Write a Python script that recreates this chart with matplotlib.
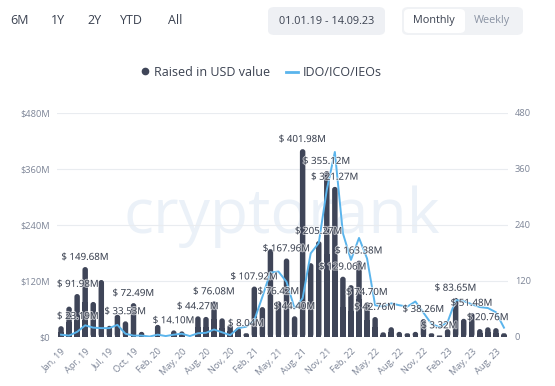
import numpy as np
import matplotlib
matplotlib.use("Agg")
import matplotlib.pyplot as plt
from matplotlib.patches import FancyBboxPatch, Rectangle
from matplotlib.lines import Line2D
import matplotlib.patheffects as pe

plt.rcParams["font.family"] = ["Open Sans", "DejaVu Sans"]

# monthly raised (USD, millions) - Jan 19 .. Sep 23
raised = [23.19, 65, 91.98, 149.68, 75, 122, 24, 48, 33.53, 72.49,
          11, 0, 26, 0, 14.10, 12, 0, 44.27, 43, 76.08,
          40, 27, 20, 8.04, 107.92, 64, 188, 76.42, 167.96, 44.40,
          401.98, 158, 205.27, 355.12, 321.27, 129.06, 111, 163.38, 74.70, 42.76,
          10, 21, 11, 8, 11, 38.26, 8, 3.32, 17, 83.65,
          39, 51.48, 17, 20.76, 19, 8]
# number of IDO/ICO/IEOs per month
idos = [5, 3, 11, 25, 20, 19, 19, 26, 7, 3,
        3, 1, 5, 2, 5, 7, 2, 8, 9, 16,
        10, 4, 19, 22, 36, 86, 138, 140, 118, 61,
        83, 179, 201, 315, 396, 222, 165, 212, 168, 68,
        65, 72, 68, 65, 76, 52, 28, 21, 32, 79,
        77, 70, 64, 62, 53, 20]
# bars that carry a value label
labelled = [0, 2, 3, 8, 9, 14, 17, 19, 23, 24, 27, 28, 29, 30, 32, 33, 34,
            35, 37, 38, 39, 45, 47, 49, 51, 53]
tick_labels = ["Jan, 19", "Apr, 19", "Jul, 19", "Oct, 19", "Feb, 20", "May, 20",
               "Aug, 20", "Nov, 20", "Feb, 21", "May, 21", "Aug, 21", "Nov, 21",
               "Feb, 22", "May, 22", "Aug, 22", "Nov, 22", "Feb, 23", "May, 23",
               "Aug, 23"]
left_ticks = ["$0", "$120M", "$240M", "$360M", "$480M"]
right_ticks = ["0", "120", "240", "360", "480"]

BAR = "#3f4558"
LINE = "#5ab4ec"
GRAY = "#7d8597"
DARK = "#3a4150"

W, H = 555, 386
fig = plt.figure(figsize=(W / 100, H / 100), dpi=100)
fig.patch.set_facecolor("white")

x0, x1, ytop, ybot = 57, 508, 112.7, 337
ax = fig.add_axes([x0 / W, 1 - ybot / H, (x1 - x0) / W, (ybot - ytop) / H])
n = len(raised)
ax.set_xlim(-0.5, n - 0.5)
ax.set_ylim(0, 480)
for s in ax.spines.values():
    s.set_visible(False)
ax.set_yticks([0, 120, 240, 360, 480])
ax.set_yticklabels(left_ticks)
ax.tick_params(axis="y", length=0, pad=5, labelsize=6.7, labelcolor=GRAY)
ax.yaxis.grid(True, color="#e9ecf0", lw=0.8)
ax.set_axisbelow(True)

xt = np.arange(0, n, 3)[:len(tick_labels)]
ax.set_xticks(xt)
ax.set_xticklabels(tick_labels, rotation=45, ha="right", rotation_mode="anchor")
ax.tick_params(axis="x", length=0, pad=7, labelsize=6.7, labelcolor=GRAY)

# watermark
ax.text(27.4, 258, "cryptorank", fontsize=45, color="#ebf1f8", ha="center",
        va="center", zorder=0)

# rounded bars
bw = 0.68
px_x = (x1 - x0) / n
px_y = (ybot - ytop) / 480
aspect = px_x / px_y
for i, v in enumerate(raised):
    if v <= 0:
        continue
    r = min(bw / 2, v / aspect / 2)
    ax.add_patch(FancyBboxPatch((i - bw / 2, 0), bw, v,
                                boxstyle=f"round,pad=0,rounding_size={r}",
                                mutation_aspect=aspect, fc=BAR, ec="none", zorder=2))
    ax.add_patch(Rectangle((i - bw / 2, 0), bw, v / 2, fc=BAR, ec="none", zorder=2))

ax2 = ax.twinx()
ax2.set_ylim(0, 480)
for s in ax2.spines.values():
    s.set_visible(False)
ax2.set_yticks([0, 120, 240, 360, 480])
ax2.set_yticklabels(right_ticks)
ax2.tick_params(axis="y", length=0, pad=5, labelsize=6.7, labelcolor=GRAY)
ax2.plot(np.arange(n), idos, color=LINE, lw=1.4, zorder=3)

labels = []
for i in labelled:
    t = ax2.annotate(f"$ {raised[i]:.2f}M", (i, raised[i]), xytext=(0, 3),
                     textcoords="offset points", ha="center", va="bottom",
                     fontsize=7, color=DARK, zorder=4,
                     path_effects=[pe.withStroke(linewidth=1.5, foreground="white", alpha=0.6)])
    labels.append(t)

# keep labels inside plot area (shift right like the original)
fig.canvas.draw()
rend = fig.canvas.get_renderer()
axbox = ax.get_window_extent(rend)
for t in labels:
    bb = t.get_window_extent(rend)
    if bb.x0 < axbox.x0:
        dx = (axbox.x0 - bb.x0) * 72 / fig.dpi
        ox, oy = t.xyann
        t.xyann = (ox + dx, oy)

# legend
def fy(y):
    return 1 - y / H

fig.add_artist(Line2D([145 / W], [fy(71)], marker="o", ms=4.5, color=BAR, lw=0))
fig.text(154 / W, fy(72), "Raised in USD value", fontsize=9, color=DARK, va="center")
fig.add_artist(Line2D([286 / W, 298 / W], [fy(72), fy(72)], color=LINE, lw=2))
fig.text(303 / W, fy(72), "IDO/ICO/IEOs", fontsize=9, color=DARK, va="center")

# top controls
for label, xl in [("6M", 10), ("1Y", 51), ("2Y", 87), ("YTD", 120), ("All", 168)]:
    fig.text(xl / W, fy(21), label, fontsize=9, color=DARK, va="center")

fig.add_artist(FancyBboxPatch((268 / W, fy(35)), 117 / W, 28 / H,
                              boxstyle="round,pad=0,rounding_size=0.012",
                              fc="#eef0f4", ec="none", transform=fig.transFigure))
fig.text(327 / W, fy(21), "01.01.19 - 14.09.23", fontsize=7.8, color=DARK,
         ha="center", va="center")
fig.add_artist(FancyBboxPatch((402 / W, fy(35)), 121 / W, 28 / H,
                              boxstyle="round,pad=0,rounding_size=0.012",
                              fc="#f0f2f5", ec="none", transform=fig.transFigure))
fig.add_artist(FancyBboxPatch((404 / W, fy(33)), 61 / W, 24 / H,
                              boxstyle="round,pad=0,rounding_size=0.01",
                              fc="white", ec="none", transform=fig.transFigure))
fig.text(434 / W, fy(21), "Monthly", fontsize=7.8, color=DARK, ha="center", va="center")
fig.text(492 / W, fy(21), "Weekly", fontsize=7.8, color="#8a93a3", ha="center", va="center")

fig.savefig("out.png", dpi=100)
